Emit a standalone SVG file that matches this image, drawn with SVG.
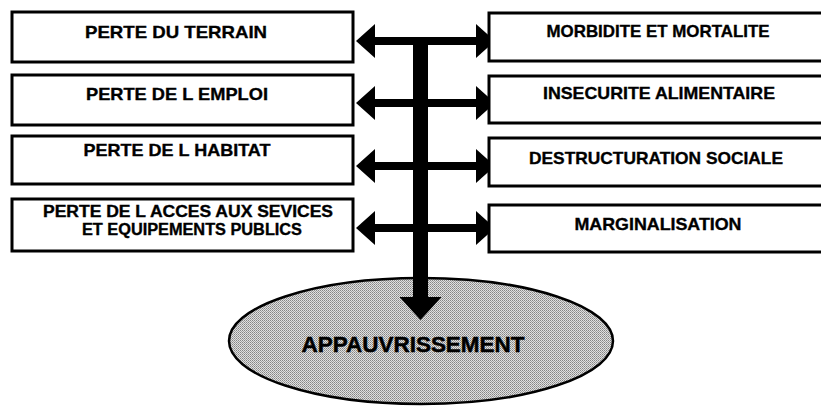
<svg xmlns="http://www.w3.org/2000/svg" width="821" height="412" viewBox="0 0 821 412">
  <style>
    .box { fill: #ffffff; stroke: #000000; stroke-width: 3; }
    .lbl { font-family: "Liberation Sans", Arial, sans-serif; font-weight: bold; font-size: 17px; fill: #000000; stroke: #000000; stroke-width: 0.35; text-anchor: middle; }
    .sm { font-size: 16px; }
    .big { font-family: "Liberation Sans", Arial, sans-serif; font-weight: bold; font-size: 22px; fill: #000000; stroke: #000000; stroke-width: 0.5; text-anchor: middle; }
    .link { stroke: #000000; stroke-width: 8; fill: none; }
    .trunk { stroke: #000000; stroke-width: 15; fill: none; }
  </style>
  <defs>
    <marker id="head" viewBox="0 0 20 34" refX="1" refY="17" markerWidth="20" markerHeight="34" markerUnits="userSpaceOnUse" orient="auto-start-reverse">
      <path d="M0,0 L19,17 L0,34 Z" fill="#000000"/>
    </marker>
    <marker id="bighead" viewBox="0 0 24 42" refX="1" refY="21" markerWidth="24" markerHeight="42" markerUnits="userSpaceOnUse" orient="auto">
      <path d="M0,0 L23,21 L0,42 Z" fill="#000000"/>
    </marker>
    <pattern id="dither" width="2" height="2" patternUnits="userSpaceOnUse">
      <rect width="2" height="2" fill="#e0e0e0"/>
      <rect width="1" height="1" fill="#858585"/>
      <rect x="1" y="1" width="1" height="1" fill="#a0a0a0"/>
    </pattern>
  </defs>

  <!-- result ellipse -->
  <g id="appauvrissement">
    <ellipse cx="421" cy="341" rx="192" ry="63" fill="url(#dither)" stroke="#000000" stroke-width="2.5"/>
    <text class="big" x="413" y="352" textLength="223" lengthAdjust="spacingAndGlyphs">APPAUVRISSEMENT</text>
  </g>

  <!-- connectors -->
  <g id="connectors">
    <line class="trunk" x1="420.5" y1="37" x2="420.5" y2="298" marker-end="url(#bighead)"/>
    <line class="link" x1="374" y1="41" x2="477" y2="41" marker-start="url(#head)" marker-end="url(#head)"/>
    <line class="link" x1="374" y1="103" x2="477" y2="103" marker-start="url(#head)" marker-end="url(#head)"/>
    <line class="link" x1="374" y1="166" x2="477" y2="166" marker-start="url(#head)" marker-end="url(#head)"/>
    <line class="link" x1="374" y1="228" x2="477" y2="228" marker-start="url(#head)" marker-end="url(#head)"/>
  </g>

  <!-- left column -->
  <g id="perte-terrain">
    <rect class="box" x="12" y="12" width="341" height="50"/>
    <text class="lbl" x="176" y="38" textLength="182" lengthAdjust="spacingAndGlyphs">PERTE DU TERRAIN</text>
  </g>
  <g id="perte-emploi">
    <rect class="box" x="12" y="75" width="341" height="50"/>
    <text class="lbl" x="177" y="100" textLength="182" lengthAdjust="spacingAndGlyphs">PERTE DE L EMPLOI</text>
  </g>
  <g id="perte-habitat">
    <rect class="box" x="12" y="136" width="341" height="48"/>
    <text class="lbl" x="177" y="156" textLength="187" lengthAdjust="spacingAndGlyphs">PERTE DE L HABITAT</text>
  </g>
  <g id="perte-acces">
    <rect class="box" x="12" y="199" width="341" height="52"/>
    <text class="lbl sm" x="188" y="217" textLength="290" lengthAdjust="spacingAndGlyphs">PERTE DE L ACCES AUX SEVICES</text>
    <text class="lbl sm" x="192" y="235" textLength="220" lengthAdjust="spacingAndGlyphs">ET EQUIPEMENTS PUBLICS</text>
  </g>

  <!-- right column -->
  <g id="morbidite">
    <rect class="box" x="489" y="13" width="345" height="48"/>
    <text class="lbl" x="658" y="37" textLength="223" lengthAdjust="spacingAndGlyphs">MORBIDITE ET MORTALITE</text>
  </g>
  <g id="insecurite">
    <rect class="box" x="489" y="76" width="345" height="47"/>
    <text class="lbl" x="659" y="99" textLength="232" lengthAdjust="spacingAndGlyphs">INSECURITE ALIMENTAIRE</text>
  </g>
  <g id="destructuration">
    <rect class="box" x="489" y="138" width="345" height="48"/>
    <text class="lbl" x="656" y="164" textLength="254" lengthAdjust="spacingAndGlyphs">DESTRUCTURATION SOCIALE</text>
  </g>
  <g id="marginalisation">
    <rect class="box" x="489" y="205" width="345" height="47"/>
    <text class="lbl" x="658" y="230" textLength="167" lengthAdjust="spacingAndGlyphs">MARGINALISATION</text>
  </g>
</svg>
